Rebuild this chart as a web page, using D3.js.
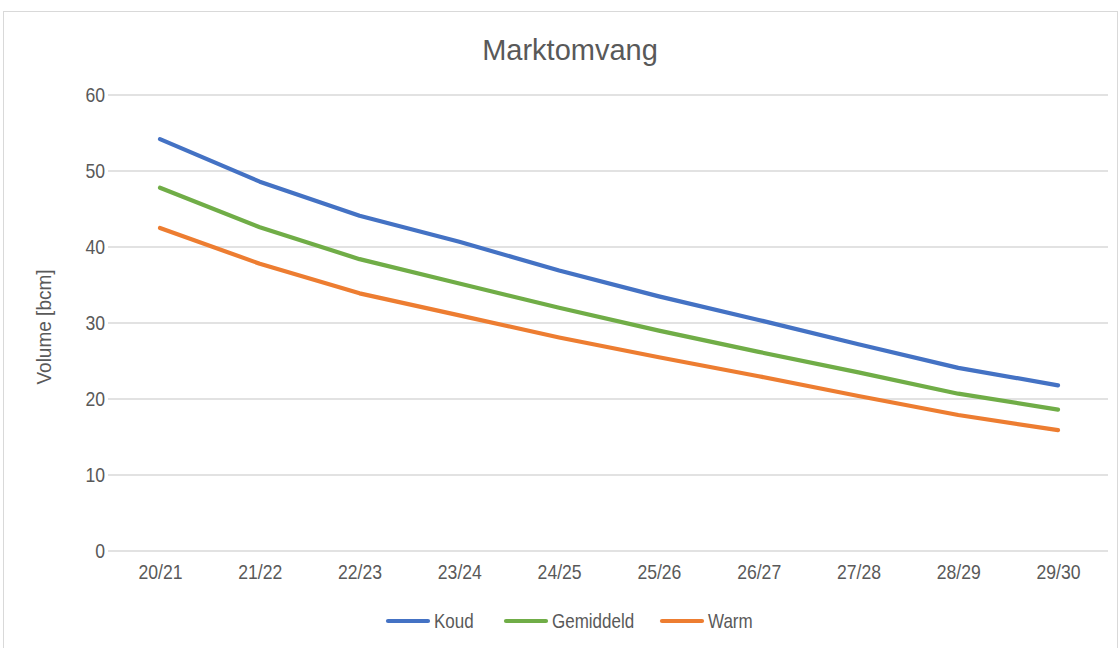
<!DOCTYPE html>
<html><head><meta charset="utf-8">
<script src="https://cdn.jsdelivr.net/npm/d3@7"></script>
<style>
body{margin:0;background:#fff;}
svg{display:block;font-family:"Liberation Sans","Arial",sans-serif;}
</style></head><body>
<svg id="c" width="1120" height="648"></svg>
<script>
const categories = ["20/21","21/22","22/23","23/24","24/25","25/26","26/27","27/28","28/29","29/30"];
const koud = [54.2,48.6,44.1,40.7,36.9,33.5,30.4,27.2,24.1,21.8];
const gemiddeld = [47.8,42.6,38.4,35.2,32.0,29.0,26.2,23.5,20.7,18.6];
const warm = [42.5,37.8,33.9,31.0,28.1,25.5,23.0,20.4,17.9,15.9];
const yTicks = [0,10,20,30,40,50,60];
const seriesNames = ["Koud","Gemiddeld","Warm"];
const colors = ["#4472C4","#70AD47","#ED7D31"];
const seriesData = [koud, gemiddeld, warm];

const svg = d3.select("#c");
svg.append("rect").attr("x",3.5).attr("y",11.5).attr("width",1114).attr("height",640)
  .attr("fill","#fff").attr("stroke","#d9d9d9").attr("stroke-width",1);

const x = d3.scalePoint().domain(categories).range([160,1058]);
const y = d3.scaleLinear().domain([0,60]).range([551,95]);

svg.append("g").selectAll("line").data(yTicks).join("line")
  .attr("x1",108).attr("x2",1108).attr("y1",d=>y(d)).attr("y2",d=>y(d))
  .attr("stroke","#d9d9d9").attr("stroke-width",1.3);

const yAxis = svg.append("g").attr("transform","translate(105,0)")
  .call(d3.axisLeft(y).tickValues(yTicks).tickSize(0).tickPadding(0));
yAxis.select(".domain").remove();
yAxis.selectAll("text").attr("fill","#595959").style("font-size","20px").attr("transform","scale(0.88,1)");

const xAxis = svg.append("g").attr("transform","translate(0,551)")
  .call(d3.axisBottom(x).tickSize(0).tickPadding(14));
xAxis.select(".domain").remove();
xAxis.selectAll("text").attr("fill","#595959").style("font-size","20px").attr("transform","scale(0.88,1)");

const line = d3.line().x((d,i)=>x(categories[i])).y(d=>y(d));
svg.append("g").selectAll("path").data(seriesData).join("path")
  .attr("d",line).attr("fill","none").attr("stroke",(d,i)=>colors[i])
  .attr("stroke-width",4.2).attr("stroke-linejoin","round").attr("stroke-linecap","round");

svg.append("text").attr("x",570).attr("y",60).attr("text-anchor","middle")
  .attr("fill","#595959").style("font-size","29px").text("Marktomvang");

svg.append("text").attr("transform","translate(51,327) rotate(-90) scale(0.95,1)").attr("text-anchor","middle")
  .attr("fill","#595959").style("font-size","20px").text("Volume [bcm]");

const legendX = [388,506,662];
const lg = svg.append("g").selectAll("g").data(seriesNames).join("g")
  .attr("transform",(d,i)=>`translate(${legendX[i]},621)`);
lg.append("line").attr("x1",0).attr("x2",40).attr("stroke",(d,i)=>colors[i])
  .attr("stroke-width",4.2).attr("stroke-linecap","round");
lg.append("text").attr("x",46).attr("y",7).attr("fill","#595959").style("font-size","20px")
  .attr("transform","scale(0.85,1)").attr("x",46/0.85).text(d=>d);
</script>
</body></html>
